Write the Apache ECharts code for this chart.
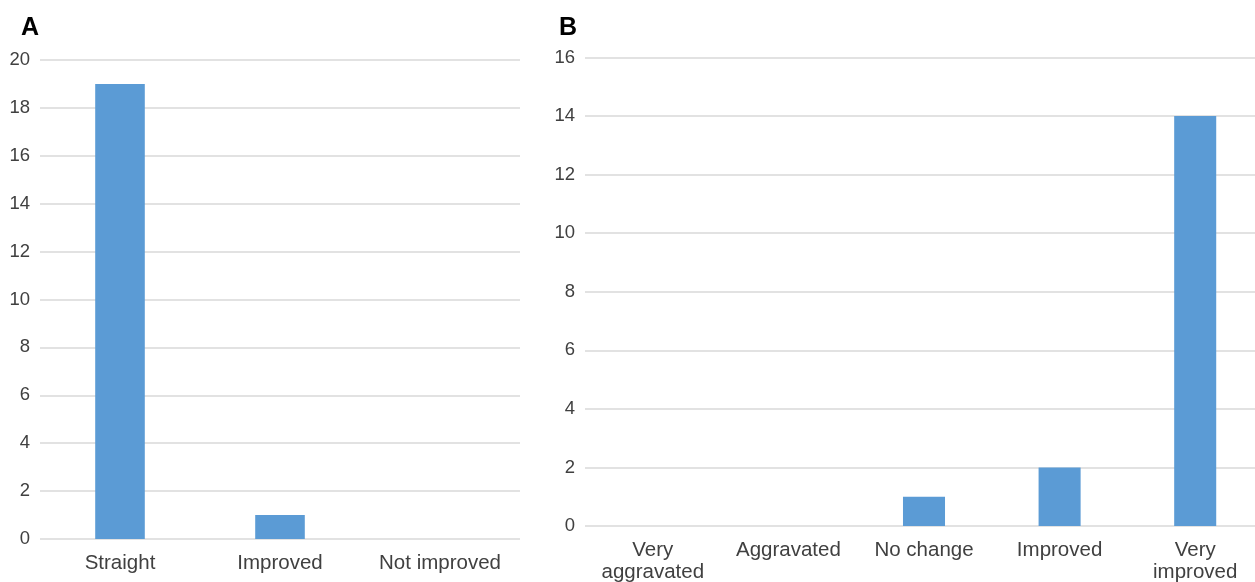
<!DOCTYPE html>
<html>
<head>
<meta charset="utf-8">
<script src="https://cdn.jsdelivr.net/npm/echarts@6/dist/echarts.min.js"></script>
<style>
  html, body { margin: 0; padding: 0; background: #fff; }
  #chart { width: 1255px; height: 582px; }
</style>
</head>
<body>
<div id="chart"></div>
<script>
// Panel A: outcome counts
const categoriesA = ['Straight', 'Improved', 'Not improved'];
const valuesA = [19, 1, 0];
// Panel B: change counts
const categoriesB = ['Very\naggravated', 'Aggravated', 'No change', 'Improved', 'Very\nimproved'];
const valuesB = [0, 0, 1, 2, 14];

const barColor = '#5b9bd5';
const gridColor = '#d9d9d9';
const textColor = '#404040';
const fontFamily = '"Liberation Sans", Arial, sans-serif';

const chart = echarts.init(document.getElementById('chart'), null, { renderer: 'canvas' });

const yAxisCommon = {
  type: 'value',
  min: 0,
  interval: 2,
  axisLine: { show: false },
  axisTick: { show: false },
  splitLine: { lineStyle: { color: gridColor, width: 1.5 } },
  axisLabel: { color: textColor, fontSize: 18.5, fontFamily: fontFamily, margin: 10 }
};
const xAxisCommon = {
  type: 'category',
  axisLine: { show: false },
  axisTick: { show: false },
  axisLabel: { color: textColor, fontSize: 20.5, fontFamily: fontFamily, margin: 13, lineHeight: 22, interval: 0 }
};

chart.setOption({
  animation: false,
  title: [
    { text: 'A', left: 16, top: 11, textStyle: { fontSize: 25, fontWeight: 'bold', color: '#000', fontFamily: fontFamily } },
    { text: 'B', left: 554, top: 11, textStyle: { fontSize: 25, fontWeight: 'bold', color: '#000', fontFamily: fontFamily } }
  ],
  grid: [
    { left: 40, right: 1255 - 520, top: 60, bottom: 582 - 539, outerBoundsMode: 'none' },
    { left: 585, right: -8, top: 57.5, bottom: 582 - 526, outerBoundsMode: 'none' }
  ],
  xAxis: [
    Object.assign({}, xAxisCommon, { gridIndex: 0, data: categoriesA }),
    Object.assign({}, xAxisCommon, { gridIndex: 1, data: categoriesB })
  ],
  yAxis: [
    Object.assign({}, yAxisCommon, { gridIndex: 0, max: 20 }),
    Object.assign({}, yAxisCommon, { gridIndex: 1, max: 16 })
  ],
  series: [
    { type: 'bar', xAxisIndex: 0, yAxisIndex: 0, data: valuesA, barWidth: '31%', itemStyle: { color: barColor } },
    { type: 'bar', xAxisIndex: 1, yAxisIndex: 1, data: valuesB, barWidth: '31%', itemStyle: { color: barColor } }
  ]
});
</script>
</body>
</html>
